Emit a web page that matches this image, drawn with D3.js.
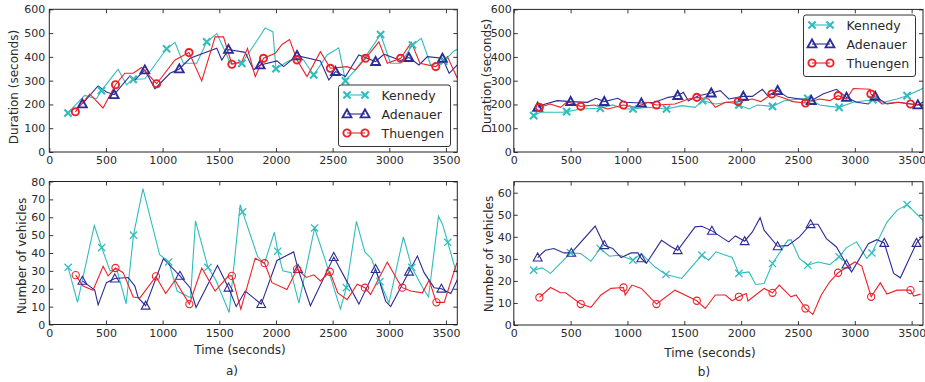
<!DOCTYPE html>
<html><head><meta charset="utf-8">
<script src="https://cdn.jsdelivr.net/npm/d3@7"></script>
<style>
body{margin:0;background:#fff}
text{font-family:"DejaVu Sans",sans-serif;fill:#2a2a2a}
</style>
</head><body><svg id="c" width="925" height="382"></svg>
<script>
// ---------- data ----------
const seriesNames = ["Kennedy", "Adenauer", "Thuengen"];
const seriesColors = ["#2fbdbd", "#2c2c96", "#ee2028"];
const timeTicks = [0, 500, 1000, 1500, 2000, 2500, 3000, 3500];
const durationTicks = [0, 100, 200, 300, 400, 500, 600];
const vehiclesTicksA = [0, 10, 20, 30, 40, 50, 60, 70, 80];
const vehiclesTicksB = [0, 10, 20, 30, 40, 50, 60];
const panelLabels = ["a)", "b)"];

// [time, value, marker]
const aDurKennedy = [[165,164,1],[312,238,0],[416,224,0],[460,258,1],[607,348,0],[681,283,0],[740,305,1],[843,308,0],[1035,434,1],[1109,461,0],[1182,373,0],[1301,373,0],[1389,463,1],[1478,498,0],[1566,408,0],[1595,373,0],[1699,373,1],[1817,457,0],[1905,522,0],[1973,505,0],[2000,350,1],[2126,387,0],[2244,387,0],[2333,324,1],[2451,408,0],[2554,438,0],[2613,299,1],[2702,345,0],[2790,401,0],[2923,494,1],[3011,373,0],[3100,373,0],[3204,450,1],[3283,478,0],[3365,366,0],[3480,382,1],[3572,425,0],[3600,432,0]];
const aDurAdenauer = [[292,202,1],[430,278,0],[504,252,0],[572,241,1],[711,320,0],[755,303,0],[843,345,1],[932,266,0],[1065,331,0],[1147,349,1],[1242,394,0],[1478,436,0],[1522,387,0],[1581,431,1],[1728,419,0],[1802,345,0],[1861,366,1],[2009,383,0],[2067,359,0],[2186,405,1],[2392,383,0],[2466,303,0],[2525,338,1],[2613,317,0],[2731,408,0],[2879,380,1],[2953,411,0],[3100,385,0],[3173,397,1],[3262,366,0],[3336,401,0],[3469,394,1],[3528,331,0],[3600,366,0]];
const aDurThuengen = [[230,169,1],[357,244,0],[474,185,0],[584,283,1],[666,331,0],[740,331,0],[814,355,0],[947,287,1],[1109,387,0],[1233,418,1],[1345,299,0],[1463,484,0],[1537,484,0],[1611,369,1],[1699,380,0],[1749,436,0],[1817,317,0],[1890,394,1],[1994,415,0],[2053,452,0],[2120,473,0],[2186,387,1],[2274,317,0],[2392,422,0],[2480,352,1],[2628,359,0],[2700,345,0],[2790,394,1],[2908,463,0],[2982,373,0],[3100,394,1],[3195,461,0],[3270,373,0],[3410,359,1],[3513,401,0],[3600,310,0]];

const aVehKennedy = [[166,32,1],[249,12.4,0],[397,55.4,0],[462,43,1],[536,30,0],[595,31,0],[678,11.6,0],[743,50,1],[826,76,0],[974,39,0],[1054,35,1],[1128,18.7,0],[1246,15,0],[1290,58,0],[1400,32,1],[1468,25,0],[1587,6.7,0],[1684,67,0],[1705,63,1],[1838,38,0],[1897,34,0],[1986,51.6,0],[2016,41,1],[2060,30,0],[2134,29,0],[2202,12,0],[2341,54,1],[2430,37,0],[2569,8.6,0],[2621,20.6,1],[2710,57.7,0],[2784,40.6,0],[2843,36.8,0],[2917,24,1],[2997,12,0],[3124,49,0],[3198,32,1],[3286,21.5,0],[3346,15.4,0],[3434,60.6,0],[3470,56,0],[3516,46,1],[3582,31,0],[3600,29,0]];
const aVehAdenauer = [[292,24.4,1],[401,19.2,0],[431,11,0],[504,23.4,0],[578,25.7,1],[696,26.3,0],[755,21.5,0],[785,14.9,0],[850,10.5,1],[1006,36.8,0],[1153,27.2,1],[1242,20.6,0],[1295,9.5,0],[1484,33,0],[1581,20.6,1],[1649,10,0],[1729,18.7,0],[1870,11.4,1],[2009,35.8,0],[2156,40.6,0],[2195,31,1],[2304,10.5,0],[2510,37.7,1],[2599,27.2,0],[2732,11.4,0],[2879,31,1],[2968,13,0],[3012,10,0],[3174,29.5,1],[3248,38.3,0],[3307,29,0],[3395,20.6,0],[3460,20,1],[3543,17.3,0],[3600,25,0]];
const aVehThuengen = [[233,27.6,1],[298,21.5,0],[386,19.2,0],[475,32.6,0],[519,27.2,0],[584,31.6,1],[652,29,0],[740,15.4,0],[800,14.9,0],[941,26.9,1],[1027,17.3,0],[1109,24.8,0],[1236,11.4,1],[1345,31.6,0],[1463,18.7,0],[1581,27.2,0],[1611,27.2,1],[1690,8.6,0],[1817,37.1,0],[1900,34.3,1],[1965,23.4,0],[2097,19.6,0],[2186,31,1],[2268,26.3,0],[2333,27.8,0],[2392,24.4,0],[2475,29.5,1],[2546,17.7,0],[2628,13.9,0],[2717,22.5,0],[2785,20.6,1],[2835,16.8,0],[2982,34.9,0],[3086,23.4,0],[3115,20.6,1],[3189,18.7,0],[3292,17.7,0],[3351,24.8,0],[3416,12.4,1],[3484,12.4,0],[3596,34.5,0]];

const bDurKennedy = [[175,153,1],[234,167,0],[426,167,0],[465,170,1],[589,181,0],[761,184,1],[870,198,0],[974,181,0],[1048,181,1],[1181,188,0],[1344,181,1],[1477,195,0],[1595,188,0],[1661,216,1],[1773,202,0],[1891,209,0],[1980,198,1],[2069,181,0],[2143,198,0],[2276,192,1],[2380,216,0],[2513,223,0],[2587,226,1],[2691,198,0],[2780,192,0],[2862,188,1],[2987,209,0],[3158,220,1],[3253,209,0],[3371,223,0],[3460,237,1],[3600,268,0]];
const bDurAdenauer = [[210,188,1],[249,198,0],[382,216,0],[500,212,1],[648,209,0],[722,226,0],[796,212,1],[915,226,0],[974,209,0],[1122,206,1],[1240,209,0],[1359,230,0],[1442,237,1],[1492,251,0],[1536,216,0],[1625,237,0],[1737,248,1],[1817,258,0],[1891,223,0],[2019,234,1],[2099,234,0],[2187,264,0],[2232,237,0],[2321,258,1],[2410,230,0],[2617,216,1],[2720,244,0],[2839,264,0],[2927,230,1],[3016,209,0],[3120,202,0],[3179,234,1],[3283,202,0],[3387,209,0],[3555,198,1],[3600,210,0]];
const bDurThuengen = [[225,188,1],[323,202,0],[411,188,0],[471,212,0],[589,192,1],[707,198,0],[826,181,0],[965,198,1],[1063,188,0],[1181,209,0],[1255,198,1],[1418,202,0],[1536,223,0],[1610,230,1],[1714,223,0],[1773,188,0],[1862,209,0],[1974,212,1],[2099,223,0],[2173,212,0],[2270,244,1],[2380,226,0],[2454,212,0],[2566,206,1],[2691,223,0],[2780,216,0],[2853,237,1],[2927,223,0],[2987,267,0],[3135,264,0],[3141,244,1],[3238,202,0],[3371,209,0],[3490,202,1],[3600,196,0]];

const bVehKennedy = [[175,24.9,1],[249,25.9,0],[323,23.4,0],[500,32.7,1],[589,32.4,0],[678,28.9,0],[761,34.7,1],[841,31.2,0],[929,31.7,0],[1048,29.4,1],[1122,32.4,0],[1240,26.4,0],[1338,22.9,1],[1477,21.1,0],[1655,31.7,1],[1714,29.4,0],[1779,33.2,0],[1921,30.6,0],[1980,23.4,1],[2069,24.1,0],[2128,18.4,0],[2202,18.8,0],[2276,27.9,1],[2410,38.4,0],[2439,38.7,0],[2513,30.2,0],[2587,27.1,1],[2676,28.6,0],[2780,27.4,0],[2862,30.9,1],[2927,35.1,0],[3016,37.7,0],[3105,30.2,0],[3150,32.7,1],[3283,46.7,0],[3371,52,0],[3460,54.6,1],[3600,47.5,0]];
const bVehAdenauer = [[210,30.6,1],[278,33.9,0],[352,34.7,0],[441,32.7,0],[506,32.7,1],[716,44.9,0],[796,36.2,1],[870,34.7,0],[944,30.6,0],[1033,32.7,0],[1092,32.7,0],[1122,30.2,1],[1166,27.9,0],[1299,38.4,0],[1388,35.4,0],[1442,33.9,1],[1595,44.5,0],[1655,44.8,0],[1743,42.7,1],[1891,37.7,0],[1950,40.4,0],[2031,38,1],[2099,42.2,0],[2167,48.7,0],[2202,43,0],[2321,35.7,1],[2410,36,0],[2513,40,0],[2611,45.7,1],[2676,45.7,0],[2750,39.2,0],[2839,35.4,0],[2927,27.4,1],[2972,24.1,0],[3120,36.9,0],[3194,38.7,0],[3259,37.2,1],[3342,23.4,0],[3401,21.4,0],[3543,37.2,1],[3600,40.5,0]];
const bVehThuengen = [[225,12.5,1],[323,17,0],[411,14.6,0],[456,14.6,0],[589,9.5,1],[678,8,0],[767,13.6,0],[855,16.6,0],[965,17,1],[980,13.6,0],[1039,18.1,0],[1122,16.6,0],[1255,9.5,1],[1418,15.8,0],[1610,11,1],[1684,7.5,0],[1773,13.6,0],[1862,13.6,0],[1921,11,0],[1980,12.8,1],[2045,14.3,0],[2060,10.9,0],[2202,16.6,0],[2276,14.6,1],[2335,18.1,0],[2439,12.8,0],[2483,13.6,0],[2566,7.5,1],[2631,4.8,0],[2705,13.6,0],[2780,19.6,0],[2853,23.7,1],[3001,28.6,0],[3061,26.7,0],[3144,12.8,1],[3224,19.1,0],[3283,14,0],[3371,15.8,0],[3490,15.8,1],[3519,13.1,0],[3579,14,0]];

// ---------- layout ----------
const panels = [
  {l:49.3, r:457.3, t:9.3, b:152, ymax:600, yTicks:durationTicks, ylabel:"Duration (seconds)", ylx:14, yly:87,
   series:[aDurKennedy,aDurAdenauer,aDurThuengen], mw:1.9, pad:4, legend:{x:338.5,y:85,w:112,h:61.5}},
  {l:49.3, r:457.3, t:181.5, b:324.5, ymax:80, yTicks:vehiclesTicksA, ylabel:"Number of vehicles", ylx:22, yly:256,
   series:[aVehKennedy,aVehAdenauer,aVehThuengen], mw:1.1, pad:4, xlabel:"Time (seconds)", xlx:240, xly:350, plabel:panelLabels[0], plx:232, ply:371},
  {l:513.8, r:923, t:9.4, b:152, ymax:600, yTicks:durationTicks, ylabel:"Duration (seconds)", ylx:486.5, yly:76,
   series:[bDurKennedy,bDurAdenauer,bDurThuengen], mw:1.9, pad:2, legend:{x:803.5,y:15,w:112,h:61.5}},
  {l:513.8, r:923, t:181.7, b:325, ymax:65, yTicks:vehiclesTicksB, ylabel:"Number of vehicles", ylx:489, yly:254,
   series:[bVehKennedy,bVehAdenauer,bVehThuengen], mw:1.1, pad:2, xlabel:"Time (seconds)", xlx:710, xly:353, plabel:panelLabels[1], plx:704, ply:372}
];

const svg = d3.select("#c");
const fmt = d3.format("d");

function drawMarker(g, kind, x, y, color, w) {
  if (kind === 0) {
    g.append("path").attr("d", `M${x-3.6},${y-3.6}L${x+3.6},${y+3.6}M${x-3.6},${y+3.6}L${x+3.6},${y-3.6}`)
      .attr("stroke", color).attr("stroke-width", w + 0.2).attr("fill", "none");
  } else if (kind === 1) {
    g.append("path").attr("d", `M${x},${y-4.6}L${x+4.4},${y+3.4}L${x-4.4},${y+3.4}Z`)
      .attr("stroke", color).attr("stroke-width", w).attr("fill", "none").attr("stroke-linejoin", "miter");
  } else {
    g.append("circle").attr("cx", x).attr("cy", y).attr("r", 3.6)
      .attr("stroke", color).attr("stroke-width", w).attr("fill", "none");
  }
}

panels.forEach(p => {
  const x = d3.scaleLinear().domain([0, 3600]).range([p.l, p.r]);
  const y = d3.scaleLinear().domain([0, p.ymax]).range([p.b, p.t]);
  const g = svg.append("g");

  const cid = "clip" + Math.round(p.l) + "_" + Math.round(p.t);
  svg.append("clipPath").attr("id", cid).append("rect")
    .attr("x", p.l).attr("y", p.t).attr("width", p.r - p.l).attr("height", p.b - p.t);
  const plot = g.append("g").attr("clip-path", `url(#${cid})`);

  const line = d3.line().x(d => x(d[0])).y(d => y(d[1]));
  p.series.forEach((s, i) => {
    plot.append("path").datum(s).attr("d", line)
      .attr("fill", "none").attr("stroke", seriesColors[i]).attr("stroke-width", 1.1);
  });
  p.series.forEach((s, i) => {
    s.filter(d => d[2]).forEach(d => drawMarker(plot, i, x(d[0]), y(d[1]), seriesColors[i], p.mw));
  });

  const ax = (axis) => axis.tickSizeOuter(0);
  const gb = g.append("g").attr("transform", `translate(0,${p.b})`)
    .call(ax(d3.axisBottom(x).tickValues(timeTicks).tickFormat(fmt).tickSize(-4).tickPadding(4)));
  const gt = g.append("g").attr("transform", `translate(0,${p.t})`)
    .call(ax(d3.axisTop(x).tickValues(timeTicks).tickSize(-4).tickFormat("")));
  const gl = g.append("g").attr("transform", `translate(${p.l},0)`)
    .call(ax(d3.axisLeft(y).tickValues(p.yTicks).tickFormat(fmt).tickSize(-4).tickPadding(p.pad)));
  const gr = g.append("g").attr("transform", `translate(${p.r},0)`)
    .call(ax(d3.axisRight(y).tickValues(p.yTicks).tickSize(-4).tickFormat("")));
  [gb, gt, gl, gr].forEach(a => {
    a.select(".domain").remove();
    a.selectAll(".tick line").attr("stroke", "#222").attr("stroke-width", 0.9);
    a.selectAll(".tick text").attr("font-size", 11).style("font-family", "DejaVu Sans").attr("fill", "#2a2a2a");
  });
  gb.selectAll(".tick text").attr("dy", "0.75em");

  g.append("rect").attr("x", p.l).attr("y", p.t).attr("width", p.r - p.l).attr("height", p.b - p.t)
    .attr("fill", "none").attr("stroke", "#222").attr("stroke-width", 1);

  g.append("text").attr("transform", `translate(${p.ylx},${p.yly}) rotate(-90)`)
    .attr("text-anchor", "middle").attr("dominant-baseline", "central").attr("font-size", 12).text(p.ylabel);
  if (p.xlabel) {
    g.append("text").attr("x", p.xlx).attr("y", p.xly).attr("text-anchor", "middle")
      .attr("dominant-baseline", "central").attr("font-size", 12).text(p.xlabel);
    g.append("text").attr("x", p.plx).attr("y", p.ply).attr("text-anchor", "middle")
      .attr("dominant-baseline", "central").attr("font-size", 12).text(p.plabel);
  }

  if (p.legend) {
    const L = p.legend;
    const lg = g.append("g");
    lg.append("rect").attr("x", L.x).attr("y", L.y).attr("width", L.w).attr("height", L.h)
      .attr("rx", 2.5).attr("fill", "#fff").attr("stroke", "#333").attr("stroke-width", 1);
    seriesNames.forEach((n, i) => {
      const cy = L.y + 10 + i * 19;
      const x1 = L.x + 8.5, x2 = L.x + 26.5;
      lg.append("line").attr("x1", x1).attr("x2", x2).attr("y1", cy).attr("y2", cy)
        .attr("stroke", seriesColors[i]).attr("stroke-width", 1.1);
      drawMarker(lg, i, x1, cy, seriesColors[i], 1.9);
      drawMarker(lg, i, x2, cy, seriesColors[i], 1.9);
      lg.append("text").attr("x", L.x + 43).attr("y", cy).attr("dominant-baseline", "central")
        .attr("font-size", 12.5).text(n);
    });
  }
});
</script>
</body></html>
